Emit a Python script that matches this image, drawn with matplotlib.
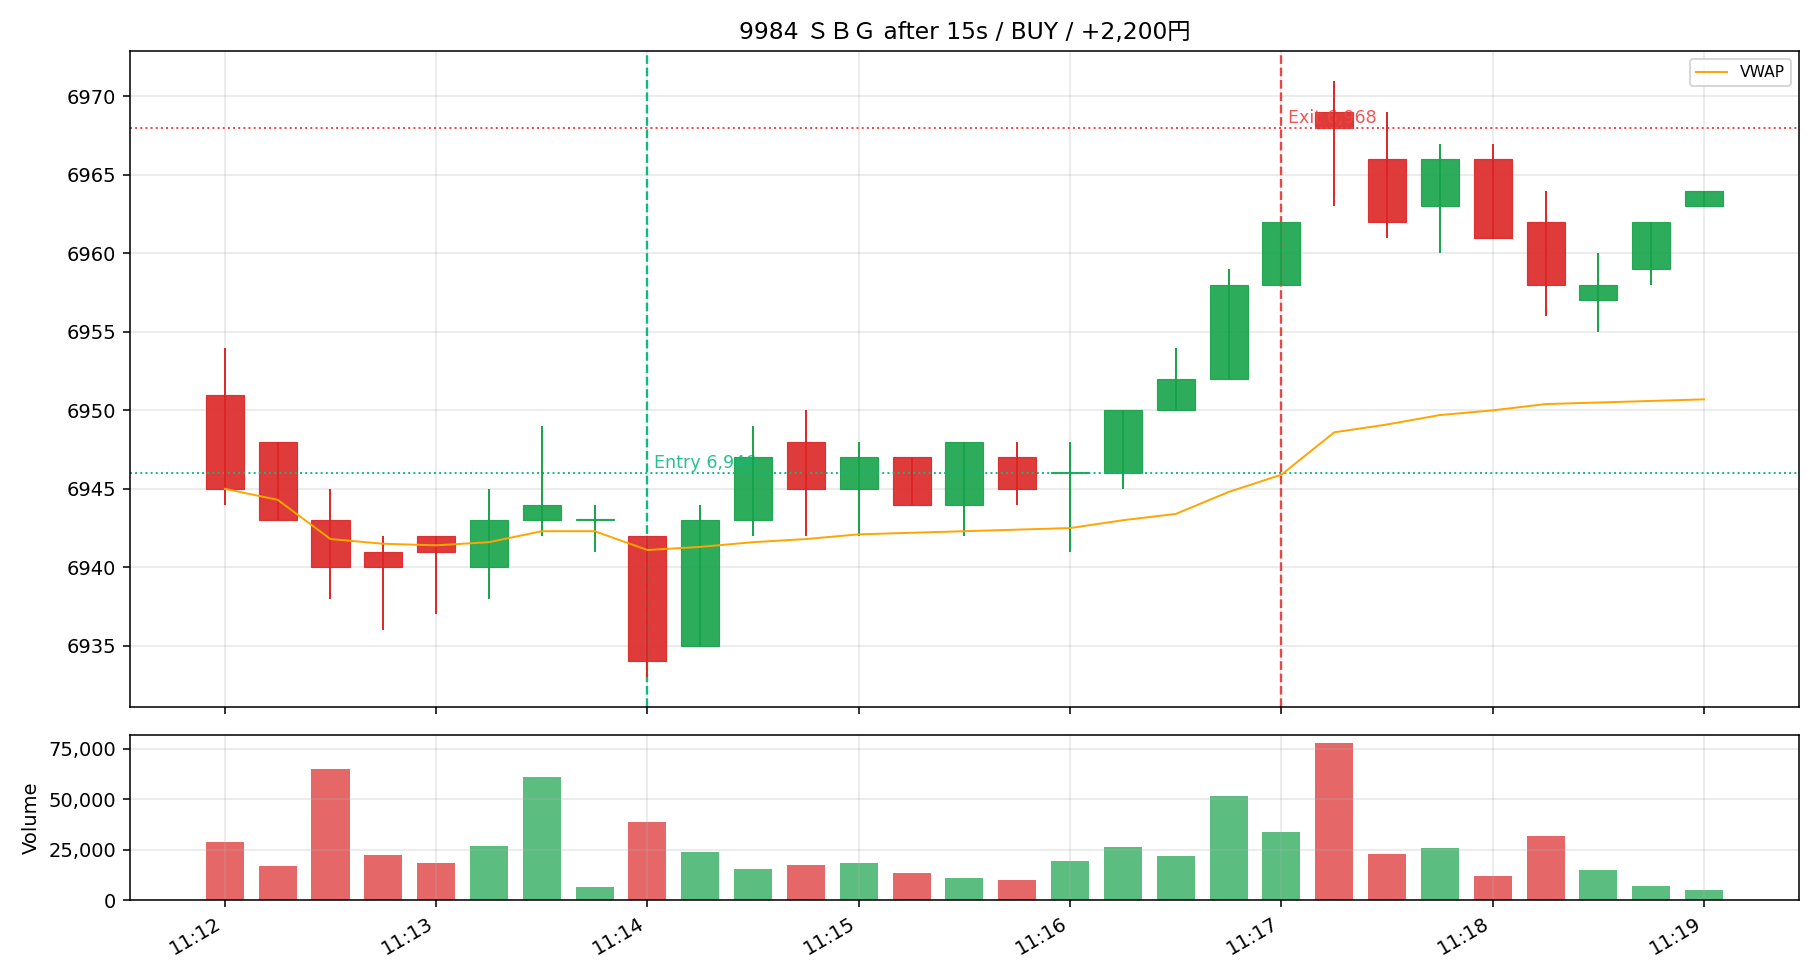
import matplotlib
matplotlib.use("Agg")
import matplotlib.dates as mdates
import matplotlib.pyplot as plt
import pandas as pd
from matplotlib.ticker import FuncFormatter

# 15-second bars, 11:12:00 .. 11:19:00
times = pd.date_range("2024-01-01 11:12:00", "2024-01-01 11:19:00", freq="15s")
opens = [6951, 6948, 6943, 6941, 6942, 6940, 6943, 6943, 6942, 6935, 6943, 6948, 6945, 6947, 6944,
         6947, 6946, 6946, 6950, 6952, 6958, 6969, 6966, 6963, 6966, 6962, 6957, 6959, 6963]
highs = [6954, 6948, 6945, 6942, 6942, 6945, 6949, 6944, 6942, 6944, 6949, 6950, 6948, 6947, 6948,
         6948, 6948, 6950, 6954, 6959, 6962, 6971, 6969, 6967, 6967, 6964, 6960, 6962, 6964]
lows = [6944, 6943, 6938, 6936, 6937, 6938, 6942, 6941, 6933, 6935, 6942, 6942, 6942, 6944, 6942,
        6944, 6941, 6945, 6950, 6952, 6958, 6963, 6961, 6960, 6961, 6956, 6955, 6958, 6963]
closes = [6945, 6943, 6940, 6940, 6941, 6943, 6944, 6943, 6934, 6943, 6947, 6945, 6947, 6944, 6948,
          6945, 6946, 6950, 6952, 6958, 6962, 6968, 6962, 6966, 6961, 6958, 6958, 6962, 6964]
volumes = [29000, 17000, 65000, 22500, 18500, 27000, 61000, 6300, 38500, 23700, 15600, 17200, 18500,
           13300, 11000, 9800, 19600, 26500, 21900, 51400, 34000, 78000, 23000, 26000, 12100, 31600,
           15000, 6900, 5200]
vwap = [6945.0, 6944.3, 6941.8, 6941.5, 6941.4, 6941.6, 6942.3, 6942.3, 6941.1, 6941.3, 6941.6,
        6941.8, 6942.1, 6942.2, 6942.3, 6942.4, 6942.5, 6943.0, 6943.4, 6944.8, 6945.9, 6948.6,
        6949.1, 6949.7, 6950.0, 6950.4, 6950.5, 6950.6, 6950.7]

code = "9984"
name = "ＳＢＧ"
side = "BUY"
pnl = 2200
entry_time = pd.Timestamp("2024-01-01 11:14:00")
entry_price = 6946
exit_time = pd.Timestamp("2024-01-01 11:17:00")
exit_price = 6968

UP = "#16a34a"
DOWN = "#dc2626"
ENTRY_C = "#10b981"
EXIT_C = "#ef4444"

fig = plt.figure(figsize=(13, 7), dpi=140)
ax = fig.add_axes([0.0714, 0.2786, 0.917, 0.6694])
axv = fig.add_axes([0.0714, 0.0816, 0.917, 0.1684], sharex=ax)

x = mdates.date2num(times)
width = 15 / 86400 * 0.72

for xi, o, h, l, c in zip(x, opens, highs, lows, closes):
    col = UP if c >= o else DOWN
    ax.bar(xi, max(abs(c - o), 0.1), bottom=min(o, c), width=width, color=col,
           edgecolor=col, linewidth=0.6, alpha=0.9, zorder=2)
    ax.vlines(xi, l, h, color=col, linewidth=1.0, zorder=3)

ax.plot(x, vwap, color="orange", linewidth=1.0, label="VWAP", zorder=4)

# entry / exit markers: labels sit over the bodies, under the wicks
ax.axvline(entry_time, color=ENTRY_C, linestyle="--", linewidth=1.2)
ax.axhline(entry_price, color=ENTRY_C, linestyle=":", linewidth=1.0)
ax.text(mdates.date2num(entry_time) + 2 / 86400, entry_price + 0.05, f"Entry {entry_price:,}",
        color=ENTRY_C, fontsize=9, va="bottom", ha="left", alpha=0.9, zorder=2.5)
ax.axvline(exit_time, color=EXIT_C, linestyle="--", linewidth=1.2)
ax.axhline(exit_price, color=EXIT_C, linestyle=":", linewidth=1.0)
ax.text(mdates.date2num(exit_time) + 2 / 86400, exit_price + 0.05, f"Exit {exit_price:,}",
        color=EXIT_C, fontsize=9, va="bottom", ha="left", alpha=0.9, zorder=2.5)

ax.grid(True, alpha=0.3)
ax.legend(loc="upper right", fontsize=8)
ax.set_title(f"{code} {name} after 15s / {side} / {pnl:+,}円", fontsize=12,
             family=["DejaVu Sans", "Noto Sans CJK JP"])
ax.tick_params(labelbottom=False)

vcols = [UP if c >= o else DOWN for o, c in zip(opens, closes)]
axv.bar(x, volumes, width=width, color=vcols, alpha=0.7)
axv.set_ylabel("Volume")
axv.grid(True, alpha=0.3)
axv.yaxis.set_major_formatter(FuncFormatter(lambda v, _: f"{v:,.0f}"))
axv.xaxis.set_major_locator(mdates.MinuteLocator())
axv.xaxis.set_major_formatter(mdates.DateFormatter("%H:%M"))
for lbl in axv.get_xticklabels():
    lbl.set_rotation(30)
    lbl.set_ha("right")

fig.savefig("out.png", dpi=140)
